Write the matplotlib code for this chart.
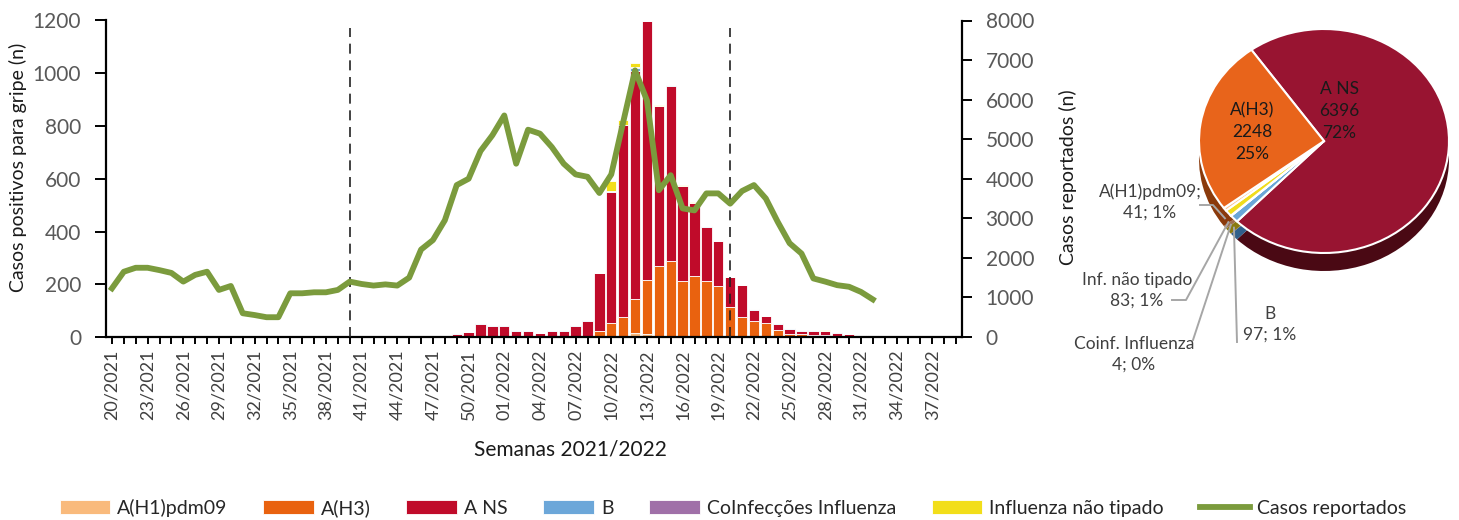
import numpy as np
import matplotlib.pyplot as plt

plt.rcParams['font.family'] = ['Lato', 'DejaVu Sans']

# weeks 20/2021 .. 39/2022
weeks = [f'{w:02d}/2021' for w in range(20, 53)] + [f'{w:02d}/2022' for w in range(1, 40)]

# positive influenza cases per week (stacked)
h1 = [0] * 42 + [2, 5, 14, 10, 4, 3,
                 2, 0, 0, 1, 0, 0, 0, 0, 0, 0, 0, 0,
                 0, 0, 0, 0, 0, 0, 0, 0, 0, 0, 0, 0]
h3 = [0] * 24 + [0, 0, 0, 0, 0, 0, 2, 3, 2, 2, 1, 1,
                 1, 1, 1, 2, 5, 23, 52, 71, 130, 207, 266, 285,
                 212, 231, 212, 193, 115, 77, 62, 52, 26, 13, 13, 6,
                 8, 4, 2, 1, 1, 0, 0, 0, 0, 0, 0, 0]
ans = [0] * 24 + [0, 0, 0, 0, 8, 10, 18, 48, 40, 41, 22, 22,
                  15, 22, 22, 40, 56, 218, 496, 726, 866, 981, 605, 662,
                  360, 278, 204, 170, 113, 120, 39, 29, 22, 19, 10, 17,
                  13, 12, 9, 5, 5, 0, 0, 0, 0, 0, 0, 0]
b = [0] * 24 + [0, 0, 5, 0, 0, 4, 0, 3, 3, 2, 3, 3,
                0, 3, 3, 3, 3, 0, 3, 3, 10, 2, 0, 4,
                0, 0, 4, 0, 0, 0, 4, 0, 4, 3, 3, 3,
                2, 3, 2, 0, 0, 0, 0, 0, 0, 0, 0, 0]
coinf = [0] * 44 + [4] + [0] * 27
nt = [0] * 42 + [40, 16, 15, 0, 3, 0,
                 3, 3, 0, 0, 0, 0, 0, 0, 0, 0, 0, 0,
                 3, 0, 0, 0, 0, 0, 0, 0, 0, 0, 0, 0]

# reported cases (right axis), 20/2021 .. 32/2022
reported = [1230, 1650, 1750, 1750, 1690, 1620, 1400, 1570, 1650, 1190,
            1290, 600, 555, 500, 500, 1105, 1105, 1130, 1130, 1190,
            1400, 1340, 1300, 1330, 1300, 1500, 2210, 2450, 2950, 3840,
            4000, 4700, 5100, 5600, 4380, 5240, 5140, 4800, 4380, 4110,
            4050, 3640, 4110, 5430, 6740, 5980, 3710, 4090, 3250, 3200,
            3630, 3630, 3370, 3690, 3840, 3500, 2910, 2370, 2110, 1480,
            1400, 1310, 1270, 1140, 950]

dashed_weeks = ['40/2021', '20/2022']

series_names = ['A(H1)pdm09', 'A(H3)', 'A NS', 'B', 'CoInfecções Influenza', 'Influenza não tipado']
series_colors = ['#F9BA7C', '#E9620F', '#C00B2A', '#6CA7D9', '#A070A8', '#F2DE1A']

# pie totals
pie_names = ['A NS', 'B', 'Coinf. Influenza', 'Inf. não tipado', 'A(H1)pdm09', 'A(H3)']
pie_values = [6396, 97, 4, 83, 41, 2248]
pie_pcts = [72, 1, 0, 1, 1, 25]
pie_colors = ['#981431', '#6AA6D8', '#A070A8', '#F0DC1C', '#FAC08F', '#E8641B']
pie_side = ['#4A0914', '#2F5F8A', '#5A3A60', '#8A7A10', '#A07050', '#8A3A0C']

W, H = 1459, 520
fig = plt.figure(figsize=(W / 100, H / 100), dpi=100)

ax1 = fig.add_axes([106 / W, 1 - 337 / H, (962 - 106) / W, (337 - 20.5) / H])
x = np.arange(len(weeks))
bottom = np.zeros(len(weeks))
handles = []
for vals, name, col in zip([h1, h3, ans, b, coinf, nt], series_names, series_colors):
    bars = ax1.bar(x, vals, 0.86, bottom=bottom, color=col, edgecolor='white', linewidth=0.6, label=name)
    handles.append(bars)
    bottom += np.array(vals)

ax1.vlines([weeks.index(w) for w in dashed_weeks], 0, 1170, colors='#222222',
           linestyles=(0, (6, 4)), linewidth=1.2, zorder=5)
ax1.set_xlim(-0.5, len(weeks) - 0.5)
ax1.set_ylim(0, 1200)
ax1.set_yticks(range(0, 1201, 200))
ax1.set_xticks(x)
ax1.set_xticklabels([w if i % 3 == 0 else '' for i, w in enumerate(weeks)], rotation=90)
ax1.tick_params(axis='x', length=5, width=1.4, pad=4, labelsize=13, labelcolor='#404040')
ax1.tick_params(axis='y', length=8, width=1.4, pad=10, labelsize=15, labelcolor='#595959')
for s in ['top', 'right']:
    ax1.spines[s].set_visible(False)
for s in ['left', 'bottom']:
    ax1.spines[s].set_linewidth(1.6)

ax2 = ax1.twinx()
line, = ax2.plot(x[:len(reported)], reported, color='#7B9B3D', linewidth=4.2,
                 solid_joinstyle='round', label='Casos reportados')
handles.append(line)
ax2.set_ylim(0, 8000)
ax2.set_yticks(range(0, 8001, 1000))
ax2.tick_params(axis='y', length=7, width=1.4, pad=10, labelsize=15, labelcolor='#595959')
for s in ['top', 'left', 'bottom']:
    ax2.spines[s].set_visible(False)
ax2.spines['right'].set_linewidth(1.6)

fig.text(18 / W, 1 - 167 / H, 'Casos positivos para gripe (n)', rotation=90,
         ha='center', va='center', fontsize=14, color='#1a1a1a')
fig.text(1068 / W, 1 - 177 / H, 'Casos reportados (n)', rotation=90,
         ha='center', va='center', fontsize=14, color='#1a1a1a')
fig.text(570 / W, 1 - 450 / H, 'Semanas 2021/2022', ha='center', va='center',
         fontsize=15, color='#1a1a1a')

fig.legend(handles, series_names + ['Casos reportados'], loc='center',
           bbox_to_anchor=(733 / W, 1 - 508 / H), ncol=7, frameon=False,
           fontsize=14, handlelength=2.6, handletextpad=0.35, columnspacing=1.85,
           labelcolor='#262626')

# 3D-looking pie
cx, cy, rx, ry, depth = 1324, 141, 125, 112, 18
axp = fig.add_axes([1090 / W, 1 - 380 / H, (W - 1090) / W, 380 / H])
dz = depth / ry
start = 125.5
axp.pie(pie_values, colors=pie_side, startangle=start, counterclock=False,
        center=(0, -dz), wedgeprops=dict(linewidth=0))
wedges, _ = axp.pie(pie_values, colors=pie_colors, startangle=start, counterclock=False,
                    wedgeprops=dict(edgecolor='white', linewidth=1.5))
axp.set_aspect('auto')
axp.set_xlim((1090 - cx) / rx, (W - cx) / rx)
axp.set_ylim((cy - 380) / ry, cy / ry)


def pp(px, py):
    return (px - cx) / rx, (cy - py) / ry


inside = {'A NS': (1339, 111), 'A(H3)': (1252, 132)}
outside = {'A(H1)pdm09': ((1150, 202), [(1200, 205), (1213, 205)], ';\n'),
           'Inf. não tipado': ((1137, 290), [(1172, 300), (1186, 300)], '\n'),
           'Coinf. Influenza': ((1134, 354), [(1193, 340)], '\n'),
           'B': ((1270, 324), [(1237, 342)], '\n')}

for w, name, val, pct in zip(wedges, pie_names, pie_values, pie_pcts):
    if name in inside:
        axp.text(*pp(*inside[name]), f'{name}\n{val}\n{pct}%', ha='center', va='center',
                 fontsize=12.5, color='#1a1a1a', linespacing=1.45)
    else:
        pos, elbow, sep = outside[name]
        axp.text(*pp(*pos), f'{name}{sep}{val}; {pct}%', ha='center', va='center',
                 fontsize=12.5, color='#404040', linespacing=1.35)
        t = np.radians((w.theta1 + w.theta2) / 2)
        pts = [pp(*p) for p in elbow] + [(np.cos(t), np.sin(t) - dz * 0.5)]
        axp.plot([p[0] for p in pts], [p[1] for p in pts], color='#A6A6A6', linewidth=1.4)

fig.savefig('out.png', dpi=100)
